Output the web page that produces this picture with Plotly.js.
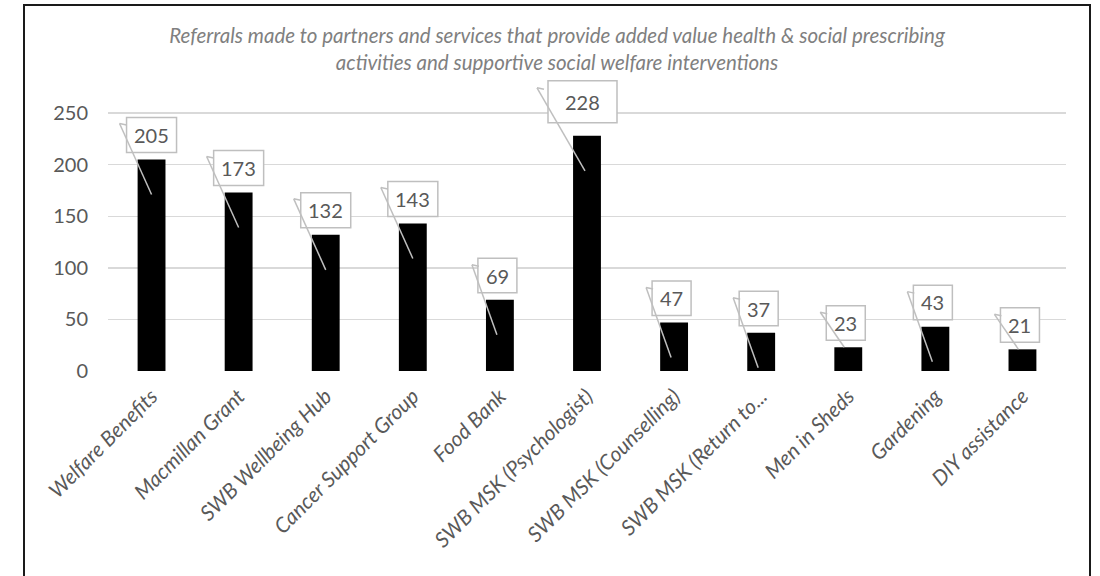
<!DOCTYPE html>
<html>
<head>
<meta charset="utf-8">
<script src="https://cdn.plot.ly/plotly-3.0.1.min.js"></script>
<style>
  html, body { margin: 0; padding: 0; background: #fff; overflow: hidden; width: 1100px; height: 576px; }
  #frame { position: absolute; left: 23px; top: 4px; width: 1064px; height: 600px;
           border: 2px solid #1a1a1a; border-bottom: none; background: #fff; }
  #chart { width: 1064px; height: 600px; }
</style>
</head>
<body>
<div id="frame"><div id="chart"></div></div>
<script>
// ---- data ----
const categories = [
  "Welfare Benefits", "Macmillan Grant", "SWB Wellbeing Hub", "Cancer Support Group",
  "Food Bank", "SWB MSK (Psychologist)", "SWB MSK (Counselling)", "SWB MSK (Return to...",
  "Men in Sheds", "Gardening", "DIY assistance"
];
const referrals = [205, 173, 132, 143, 69, 228, 47, 37, 23, 43, 21];
const yTicks = [0, 50, 100, 150, 200, 250];
const chartTitle = "Referrals made to partners and services that provide added value health &amp; social prescribing<br>activities and supportive social welfare interventions";

// ---- layout constants ----
const W = 1064, H = 600;
const mL = 83, mR = 23, mT = 71, mB = 235;
const yMax = 285;
const plotH = H - mT - mB;
const pxPerUnit = plotH / yMax;
const FONT = "Lato, 'Open Sans', sans-serif";
const labelGray = "#595959";
const boxGray = "#bfbfbf";

const shapes = [];
const annotations = [];

referrals.forEach((v, i) => {
  const big = (v === Math.max(...referrals)); // the enlarged callout
  const digits = String(v).length;
  let box, start, endX;
  if (big) {
    box = {x0: -39, x1: 30, y0: 13, y1: 55};
    start = {x: -50, y: 48};
    endX = -2;
  } else if (digits >= 3) {
    box = {x0: -25, x1: 25, y0: 7, y1: 42};
    start = {x: -32, y: 36};
    endX = 0;
  } else {
    box = {x0: -22, x1: 17, y0: 7, y1: 41.5};
    start = {x: -28, y: 35};
    endX = -3;
  }
  const barPx = v * pxPerUnit;
  const endY = barPx > 30 ? -35 : 0;
  if (barPx <= 30) endX = -4;

  const common = {xref: "x", yref: "y", xsizemode: "pixel", ysizemode: "pixel",
                  xanchor: i, yanchor: v, layer: "above"};
  shapes.push(Object.assign({type: "rect", x0: box.x0, x1: box.x1, y0: box.y0, y1: box.y1,
    fillcolor: "#ffffff", line: {color: boxGray, width: 1.5}}, common));
  shapes.push(Object.assign({type: "line", x0: start.x, y0: start.y, x1: endX, y1: endY,
    line: {color: boxGray, width: 1.5}}, common));
  shapes.push(Object.assign({type: "line", x0: start.x, y0: start.y, x1: start.x + 7, y1: start.y - 1.5,
    line: {color: boxGray, width: 1.5}}, common));

  annotations.push({
    xref: "x", yref: "y", x: i, y: v, text: String(v), showarrow: false,
    xanchor: "center", yanchor: "middle",
    xshift: (box.x0 + box.x1) / 2, yshift: (box.y0 + box.y1) / 2,
    font: {family: FONT, size: 20, color: labelGray}
  });
});

const trace = {
  type: "bar",
  x: categories.map((c, i) => i),
  y: referrals,
  marker: {color: "#000000", line: {width: 0}},
  hoverinfo: "skip"
};

const layout = {
  width: W, height: H,
  margin: {l: mL, r: mR, t: mT, b: mB, pad: 0},
  paper_bgcolor: "#ffffff", plot_bgcolor: "#ffffff",
  showlegend: false,
  bargap: 0.68,
  title: {
    text: chartTitle, x: 0.5, xanchor: "center", xref: "container",
    y: 1 - 37 / H, yanchor: "top", yref: "container",
    font: {family: FONT, size: 20.5, color: "#808080", style: "italic"}
  },
  xaxis: {
    type: "linear", range: [-0.5, categories.length - 0.5],
    tickmode: "array", tickvals: categories.map((c, i) => i), ticktext: categories,
    tickangle: -45, ticks: "", showgrid: false, zeroline: false,
    showline: false, ticklabelstandoff: 8,
    tickfont: {family: FONT, size: 21, color: labelGray, style: "italic"}
  },
  yaxis: {
    range: [0, yMax], tickmode: "array", tickvals: yTicks,
    ticks: "", showline: false, zeroline: false,
    showgrid: true, gridcolor: "#d9d9d9", gridwidth: 1.5,
    ticklabelstandoff: 19,
    tickfont: {family: FONT, size: 20, color: labelGray}
  },
  shapes: shapes,
  annotations: annotations
};

Plotly.newPlot("chart", [trace], layout, {displayModeBar: false, staticPlot: true});
</script>
</body>
</html>
